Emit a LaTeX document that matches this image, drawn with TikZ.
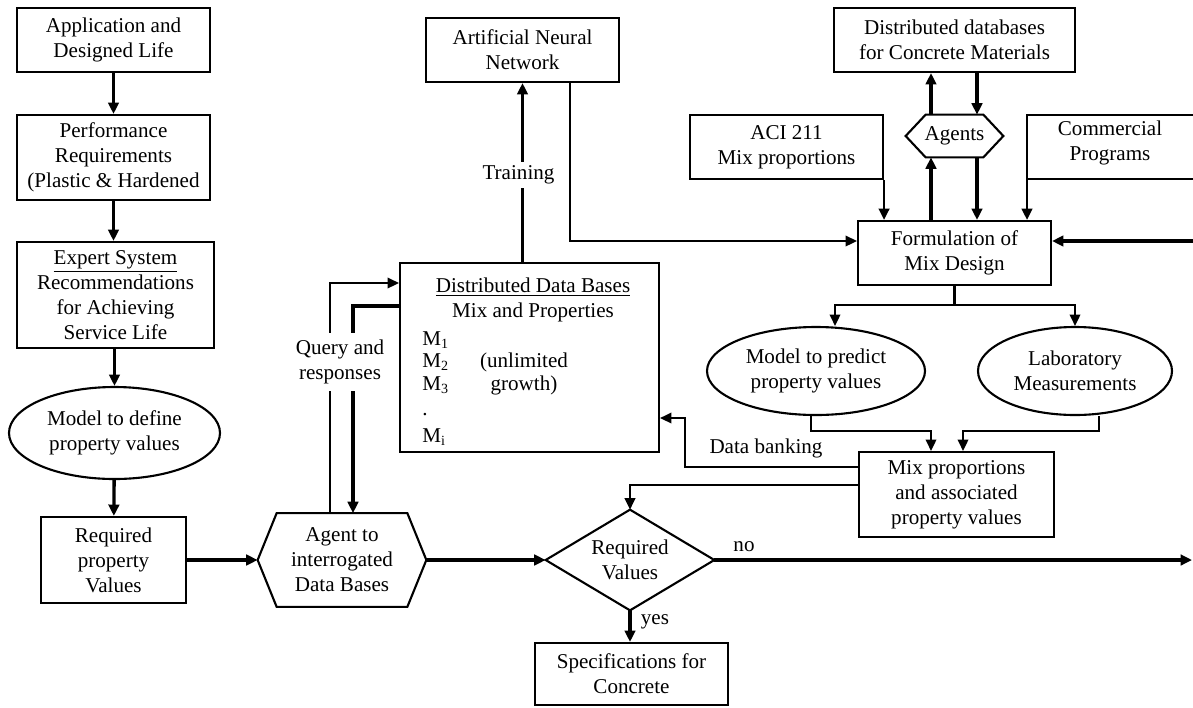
\documentclass[tikz,border=0pt]{standalone}
\usepackage{fontspec}
\setmainfont{Liberation Serif}
\usetikzlibrary{arrows.meta,shapes.geometric}
\tikzset{
  wh/.style 2 args={minimum width=#1*0.02cm,minimum height=#2*0.02cm},
  box/.style={draw,line width=1.2pt,inner sep=0pt,align=center},
  oval/.style={draw,ellipse,line width=1.2pt,inner sep=0pt,align=center},
  shell/.style={inner sep=0pt,align=center},
  outline/.style={line width=1.2pt,line join=miter},
  arr/.style={-{Triangle[length=6.5pt,width=6pt]}},
  thickln/.style={line width=1.9pt},
  midln/.style={line width=1.5pt},
  thinln/.style={line width=1.2pt},
  lbl/.style={fill=white,inner sep=2pt,align=center},
}
\begin{document}
\begin{tikzpicture}[x=0.02cm,y=-0.02cm,font=\fontsize{12}{14.2}\selectfont]
\fill[white] (0,0) rectangle (1193,707);
\useasboundingbox (0,0) rectangle (1193,707);

% ---- left column ----
\node[box,wh={193}{64}] (app) at (113.5,40) {Application and\\Designed Life};
\node[box,wh={193}{85}] (perf) at (113.5,157.5) {Performance\\Requirements\\(Plastic \& Hardened};
\node[box,wh={197}{106}] (expert) at (115.5,295) {\underline{Expert System}\\Recommendations\\for Achieving\\Service Life};
\node[oval,wh={211}{92}] (mdef) at (114.5,433) {Model to define\\property values};
\node[box,wh={145}{86}] (reqp) at (113.5,560) {Required\\property\\Values};

% ---- agent hexagon ----
\node[shell,wh={168}{93}] (agent) at (342,560) {Agent to\\interrogated\\Data Bases};
\draw[outline] (agent.west) -- ([xshift=0.38cm]agent.north west) -- ([xshift=-0.38cm]agent.north east)
  -- (agent.east) -- ([xshift=-0.38cm]agent.south east) -- ([xshift=0.38cm]agent.south west) -- cycle;

% ---- centre ----
\node[box,wh={193}{64}] (ann) at (522.5,50) {Artificial Neural\\Network};
\node[box,wh={259}{189}] (db) at (529.5,357.5) {};
\node[shell] (dbt) at (533,300) {\underline{Distributed Data Bases}\\Mix and Properties};
\node[shell,anchor=base west] (m1) at (422,345) {M\textsubscript{1}};
\node[shell,anchor=base west] (m2) at (422,367) {M\textsubscript{2}};
\node[shell,anchor=base west] (m3) at (422,390) {M\textsubscript{3}};
\node[shell,anchor=base west] (mdot) at (422,415) {.};
\node[shell,anchor=base west] (mi) at (422,442) {M\textsubscript{i}};
\node[shell,anchor=base] (grow1) at (524,367) {(unlimited};
\node[shell,anchor=base] (grow2) at (524,390) {growth)};

% ---- decision and result ----
\node[shell,wh={168}{100}] (req) at (630,560) {Required\\Values};
\draw[outline] (req.west) -- (req.north) -- (req.east) -- (req.south) -- cycle;
\node[box,wh={193}{62}] (spec) at (631.5,674) {Specifications for\\Concrete};

% ---- right part ----
\node[box,wh={241}{64}] (ddb) at (954.5,40) {Distributed databases\\for Concrete Materials};
\node[shell,wh={97}{42}] (ag) at (954.5,136) {Agents};
\draw[outline] (ag.west) -- ([xshift=0.4cm]ag.north west) -- ([xshift=-0.4cm]ag.north east)
  -- (ag.east) -- ([xshift=-0.4cm]ag.south east) -- ([xshift=0.4cm]ag.south west) -- cycle;
\node[box,wh={193}{64}] (aci) at (786.5,147) {ACI 211\\Mix proportions};
\node[shell] (comm) at (1110,143) {Commercial\\Programs};
\coordinate (cTL) at (1027,115);
\coordinate (cBL) at (1027,179);
\draw[outline] (1193,115) -- (cTL) -- (cBL) -- (1193,179);
\node[box,wh={193}{64}] (form) at (954.5,253) {Formulation of\\Mix Design};
\node[oval,wh={218}{88}] (mpred) at (816,371) {Model to predict\\property values};
\node[oval,wh={194}{88}] (lab) at (1075,371) {Laboratory\\Measurements};
\node[box,wh={195}{85}] (mix) at (956.5,494.5) {Mix proportions\\and associated\\property values};

% ---- left column connectors ----
\draw[arr,thickln] (app) -- (perf);
\draw[arr,thickln] (perf.south) -- (perf.south |- expert.north);
\draw[arr,thickln] (expert.south -| mdef.north) -- (mdef.north);
\draw[arr,thickln] (mdef) -- (reqp);
\draw[arr,thickln] (reqp.east) -- (agent.west);
\draw[arr,thickln] (agent.east) -- (req.west);

% ---- query and responses ----
\coordinate (qx) at (330,283);
\coordinate (rx) at (353,306);
\draw[arr,thinln] (qx |- agent.north) -- (qx) -- (qx -| db.west);
\draw[arr,thickln] (rx -| db.west) -- (rx) -- (rx |- agent.north);
\node[lbl,inner ysep=4pt] (qlab) at (340,362) {Query and\\responses};

% ---- training ----
\draw[arr,thickln] (ann.south |- db.north) -- (ann.south);
\node[lbl] (train) at (518.5,175) {Training};

% ---- into the formulation ----
\coordinate (ax) at (570,241);
\coordinate (rin) at (1193,241);
\draw[arr,thinln] (ax |- ann.south) -- (ax) -- (ax -| form.west);
\draw[arr,thickln] (rin) -- (rin -| form.east);
\draw[arr,midln] (aci.south east) -- (aci.south east |- form.north);
\draw[arr,midln] (cBL) -- (cBL |- form.north);

% ---- agents ----
\coordinate (g1) at (931,0);
\coordinate (g2) at (977,0);
\draw[arr,thickln] (g1 |- ag.north) -- (g1 |- ddb.south);
\draw[arr,thickln] (g2 |- ddb.south) -- (g2 |- ag.north);
\draw[arr,thickln] (g1 |- form.north) -- (g1 |- ag.south);
\draw[arr,thickln] (g2 |- ag.south) -- (g2 |- form.north);

% ---- formulation to models ----
\coordinate (sp1) at (835,305);
\coordinate (sp2) at (1075,305);
\draw[thinln] (form.south) -- (form.south |- sp1);
\draw[arr,thinln] (form.south |- sp1) -- (sp1) -- (sp1 |- mpred.north);
\draw[arr,thinln] (form.south |- sp2) -- (sp2) -- (lab.north);

% ---- models to mix proportions ----
\coordinate (j1) at (811,431);
\coordinate (k1) at (931,431);
\coordinate (j2) at (1099,431);
\coordinate (k2) at (963,431);
\draw[arr,thinln] (j1 |- mpred.south) -- (j1) -- (k1) -- (k1 |- mix.north);
\draw[arr,thinln] (j2 |- lab.south) -- (j2) -- (k2) -- (k2 |- mix.north);

% ---- data banking ----
\coordinate (d1) at (685,467);
\coordinate (d2) at (685,418);
\draw[arr,thinln] (d1 -| mix.west) -- (d1) -- (d2) -- (d2 -| db.east);
\node[shell] (dbank) at (766,448) {Data banking};

% ---- mix to decision ----
\coordinate (kk) at (630,485);
\draw[arr,thinln] (kk -| mix.west) -- (kk) -- (req.north);

% ---- outcomes ----
\coordinate (nout) at (1192,560);
\draw[arr,thickln] (req.east) -- (nout);
\node[shell] (nolab) at (744,547) {no};
\draw[arr,thickln] (req.south) -- (req.south |- spec.north);
\node[shell] (yeslab) at (655,622) {yes};
\end{tikzpicture}
\end{document}
